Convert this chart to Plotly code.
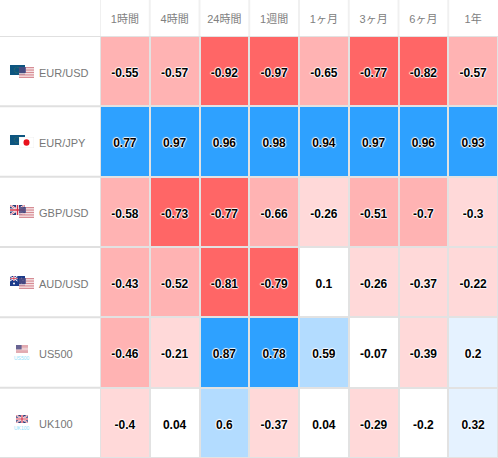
import base64
import plotly.graph_objects as go

periods = ["1時間", "4時間", "24時間", "1週間", "1ヶ月", "3ヶ月", "6ヶ月", "1年"]
instruments = ["EUR/USD", "EUR/JPY", "GBP/USD", "AUD/USD", "US500", "UK100"]
eur_usd = [-0.55, -0.57, -0.92, -0.97, -0.65, -0.77, -0.82, -0.57]
eur_jpy = [0.77, 0.97, 0.96, 0.98, 0.94, 0.97, 0.96, 0.93]
gbp_usd = [-0.58, -0.73, -0.77, -0.66, -0.26, -0.51, -0.7, -0.3]
aud_usd = [-0.43, -0.52, -0.81, -0.79, 0.1, -0.26, -0.37, -0.22]
us500 = [-0.46, -0.21, 0.87, 0.78, 0.59, -0.07, -0.39, 0.2]
uk100 = [-0.4, 0.04, 0.6, -0.37, 0.04, -0.29, -0.2, 0.32]
rows = [eur_usd, eur_jpy, gbp_usd, aud_usd, us500, uk100]

RED, PINK, LIGHT = "#ff6666", "#ffb3b3", "#ffd9d9"
WHITE, PALE, SKY, BLUE = "#ffffff", "#e5f2ff", "#b3dcff", "#2ea1ff"
bands = [(-1, -0.705, RED), (-0.705, -0.405, PINK), (-0.405, -0.205, LIGHT),
         (-0.205, 0.195, WHITE), (0.195, 0.45, PALE), (0.45, 0.7, SKY), (0.7, 1, BLUE)]
colorscale = []
for lo, hi, c in bands:
    colorscale += [[(lo + 1) / 2, c], [(hi + 1) / 2, c]]

W, H, L, T = 498, 458, 100, 36
px = lambda v: (v - L) / (W - L)
py = lambda v: (H - v) / (H - T)


def svg(body, w=30, h=20):
    s = f'<svg xmlns="http://www.w3.org/2000/svg" width="{w}" height="{h}" viewBox="0 0 {w} {h}">{body}</svg>'
    return "data:image/svg+xml;base64," + base64.b64encode(s.encode()).decode()


US = svg('<rect width="30" height="20" fill="#fff"/>'
         + "".join(f'<rect y="{i*3.08:.2f}" width="30" height="1.54" fill="#c8606c"/>' for i in range(7))
         + '<rect width="14" height="11" fill="#4e4a80"/>')
EU = svg('<rect width="30" height="20" fill="#0d5580"/><circle cx="14" cy="10" r="5.5" fill="none" '
         'stroke="#6f8f3a" stroke-width="1.2" stroke-dasharray="1.2 1.6"/>')
JP = svg('<rect width="30" height="20" fill="#fff" stroke="#e4e4e4"/><circle cx="15" cy="10" r="6" fill="#e8111c"/>')
UK = svg('<rect width="30" height="20" fill="#2a3a78"/><path d="M0 0L30 20M30 0L0 20" stroke="#fff" stroke-width="4"/>'
         '<path d="M0 0L30 20M30 0L0 20" stroke="#d5334a" stroke-width="1.4"/>'
         '<path d="M15 0V20M0 10H30" stroke="#fff" stroke-width="6"/><path d="M15 0V20M0 10H30" stroke="#d5334a" stroke-width="3"/>')
AU = svg('<rect width="30" height="20" fill="#1b3a8a"/><g transform="scale(.5)">'
         '<path d="M0 0L30 20M30 0L0 20" stroke="#fff" stroke-width="4"/><path d="M15 0V20M0 10H30" stroke="#fff" stroke-width="6"/>'
         '<path d="M15 0V20M0 10H30" stroke="#d5334a" stroke-width="3"/></g>'
         '<circle cx="8" cy="15" r="2" fill="#fff"/><circle cx="23" cy="5" r="1.3" fill="#fff"/>'
         '<circle cx="23" cy="15" r="1.3" fill="#fff"/><circle cx="26" cy="9" r="1.3" fill="#fff"/>')

images = []


def flag(src, x, y, w, h, opacity=1):
    images.append(dict(source=src, xref="paper", yref="paper", x=px(x), y=py(y), sizex=w / (W - L),
                       sizey=h / (H - T), xanchor="left", yanchor="top", sizing="stretch", layer="above",
                       opacity=opacity))


flag(EU, 10, 65, 15, 10); flag(US, 19, 67, 15, 11, 0.85)
flag(EU, 10, 135, 15, 10); flag(JP, 19, 137, 15, 11)
flag(UK, 10, 205, 15, 10); flag(US, 19, 207, 15, 11, 0.85)
flag(AU, 10, 276, 15, 10); flag(US, 19, 278, 15, 11, 0.85)
flag(US, 16, 345, 12, 8, 0.85)
flag(UK, 16, 415, 12, 8)

fig = go.Figure()
fig.add_trace(go.Heatmap(z=rows, x=list(range(8)), y=list(range(6)), zmin=-1, zmax=1, colorscale=colorscale,
                         showscale=False, xgap=2, ygap=2, hoverinfo="skip"))
fig.add_trace(go.Scatter(
    x=[c for r in range(6) for c in range(8)], y=[r + 0.04 for r in range(6) for c in range(8)],
    text=[str(v) for row in rows for v in row], mode="text", hoverinfo="skip", showlegend=False,
    textfont=dict(family="Liberation Sans, Arial, sans-serif", size=12, color="#000000", weight="bold",
                  shadow="-1px 0 1px #fff, 1px 0 1px #fff, 0 -1px 1px #fff, 0 1px 1px #fff")))

shapes = [dict(type="rect", layer="below", xref="x", yref="y", x0=-0.5, x1=7.5, y0=-0.5, y1=5.5,
               fillcolor="#e2e2e2", line_width=0)]
for r in range(7):
    shapes.append(dict(type="line", xref="paper", yref="y", x0=px(0), x1=1, y0=r - 0.5, y1=r - 0.5,
                       line=dict(color="#e0e0e0", width=2), layer="below"))
for c in range(8):
    shapes.append(dict(type="line", xref="x", yref="paper", x0=c - 0.5, x1=c - 0.5, y0=1, y1=py(0),
                       line=dict(color="#f0f0f0", width=2), layer="below"))

annotations = [dict(xref="paper", yref="y", x=px(37), y=r + 0.02, text=name, showarrow=False, xanchor="left",
                    yanchor="middle", font=dict(family="Liberation Sans, Arial, sans-serif", size=11, color="#777777"))
               for r, name in enumerate(instruments)]
for r, y in [(4, 357.5), (5, 427.5)]:
    annotations.append(dict(xref="paper", yref="paper", x=px(22), y=py(y), text=instruments[r], showarrow=False,
                            xanchor="center", yanchor="middle",
                            font=dict(family="Liberation Sans, Arial, sans-serif", size=5, color="#8fe0fa")))

fig.update_layout(
    width=W, height=H, margin=dict(l=L, r=0, t=T, b=0, pad=0), paper_bgcolor="#fff", plot_bgcolor="#fff",
    showlegend=False, shapes=shapes, images=images, annotations=annotations,
    xaxis=dict(side="top", tickmode="array", tickvals=list(range(8)), ticktext=periods, range=[-0.5, 7.5],
               showgrid=False, zeroline=False, showline=False, ticks="", ticklabelstandoff=10,
               tickfont=dict(family="Liberation Sans, Noto Sans CJK JP, sans-serif", size=11, color="#808080")),
    yaxis=dict(range=[5.5, -0.5], showticklabels=False, showgrid=False, zeroline=False, showline=False, ticks=""),
)
fig.write_html("out.html", config=dict(displayModeBar=False),
               post_script="document.body.style.margin='0';")
